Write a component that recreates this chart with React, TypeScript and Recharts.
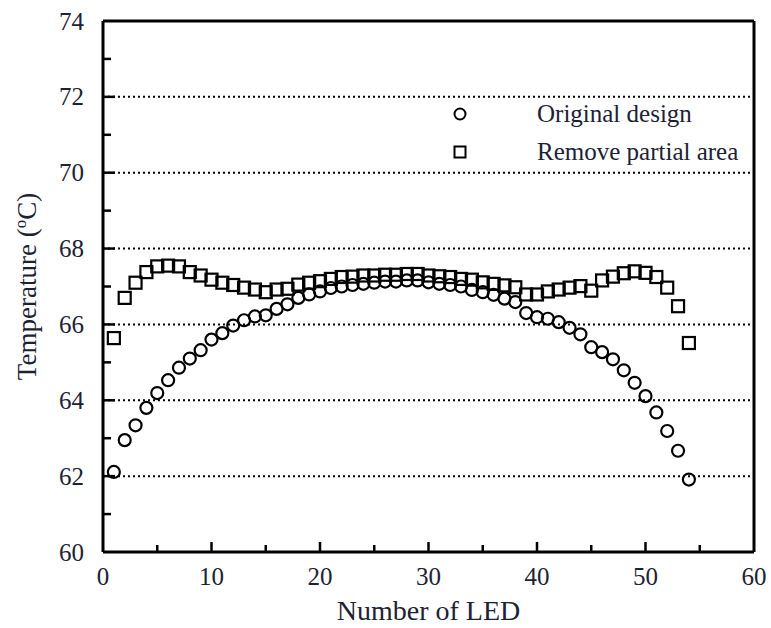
import React from 'react';
import { ScatterChart, Scatter, XAxis, YAxis, ReferenceLine } from 'recharts';

const ledIndex = [1,2,3,4,5,6,7,8,9,10,11,12,13,14,15,16,17,18,19,20,21,22,23,24,25,26,27,28,29,30,31,32,33,34,35,36,37,38,39,40,41,42,43,44,45,46,47,48,49,50,51,52,53,54];

const originalDesign = [62.11,62.95,63.34,63.8,64.19,64.53,64.86,65.1,65.32,65.6,65.77,65.97,66.11,66.21,66.24,66.41,66.53,66.7,66.79,66.87,66.96,67.0,67.04,67.07,67.1,67.13,67.13,67.16,67.16,67.11,67.07,67.04,67.0,66.91,66.85,66.78,66.68,66.59,66.3,66.19,66.15,66.06,65.91,65.74,65.4,65.27,65.08,64.79,64.46,64.11,63.68,63.19,62.67,61.91];

const removePartialArea = [65.64,66.7,67.1,67.38,67.53,67.55,67.53,67.38,67.29,67.18,67.1,67.04,66.97,66.92,66.85,66.92,66.94,67.05,67.1,67.14,67.2,67.25,67.26,67.29,67.29,67.31,67.31,67.33,67.33,67.29,67.27,67.25,67.2,67.18,67.11,67.07,67.03,66.98,66.79,66.79,66.87,66.92,66.97,67.01,66.89,67.16,67.26,67.35,67.4,67.36,67.25,66.97,66.48,65.51];

const xTicks = [0,5,10,15,20,25,30,35,40,45,50,55,60];
const yTicks = [60,61,62,63,64,65,66,67,68,69,70,71,72,73,74];
const gridValues = [62,64,66,68,70,72];

const seriesNames = ['Original design', 'Remove partial area'];
const xTitle = 'Number of LED';

const origData = ledIndex.map((n, i) => ({ x: n, y: originalDesign[i] }));
const removeData = ledIndex.map((n, i) => ({ x: n, y: removePartialArea[i] }));

const FONT = '"Liberation Serif", "Times New Roman", serif';
const TEXT = '#1c2233';

const CircleShape = (props: any) => (
  <circle cx={props.cx} cy={props.cy} r={6} fill="none" stroke="#000" strokeWidth={2.2} />
);
const SquareShape = (props: any) => (
  <rect x={props.cx - 6} y={props.cy - 6} width={12} height={12} fill="none" stroke="#000" strokeWidth={2.2} />
);

const XTick = (props: any) => {
  const { x, y, payload } = props;
  const v = payload.value;
  const major = v % 10 === 0;
  const len = major ? 10 : 7;
  return (
    <g>
      {v !== 0 && v !== 60 && <line x1={x} x2={x} y1={y} y2={y - len} stroke="#000" strokeWidth={2.5} />}
      {major && (
        <text x={x} y={y + 33} textAnchor="middle" fontFamily={FONT} fontSize={25} fill={TEXT}>{v}</text>
      )}
    </g>
  );
};

const YTick = (props: any) => {
  const { x, y, payload } = props;
  const v = payload.value;
  const major = v % 2 === 0;
  const len = major ? 12 : 8;
  return (
    <g>
      {v !== 60 && v !== 74 && <line x1={x} x2={x + len} y1={y} y2={y} stroke="#000" strokeWidth={2.5} />}
      {major && (
        <text x={x - 19} y={y + 8.5} textAnchor="end" fontFamily={FONT} fontSize={25} fill={TEXT}>{v}</text>
      )}
    </g>
  );
};

const XLabel = (props: any) => {
  const vb = props.viewBox || {};
  return (
    <text x={vb.x + vb.width / 2} y={vb.y + 68} textAnchor="middle" fontFamily={FONT} fontSize={28} fill={TEXT}>
      {xTitle}
    </text>
  );
};

const YLabel = (props: any) => {
  const vb = props.viewBox || {};
  const cx = 36;
  const cy = vb.y + vb.height / 2;
  return (
    <text x={cx} y={cy} transform={`rotate(-90, ${cx}, ${cy})`} textAnchor="middle" fontFamily={FONT} fontSize={27} fill={TEXT}>
      <tspan>Temperature (</tspan>
      <tspan fontSize={17} dy={-10}>o</tspan>
      <tspan dy={10}>C)</tspan>
    </text>
  );
};

const LegendOverlay = () => (
  <div style={{ position: 'absolute', left: 440, top: 96, width: 320, height: 80, fontFamily: FONT, fontSize: 25, color: TEXT }}>
    {seriesNames.map((name, i) => (
      <div key={name} style={{ position: 'absolute', left: 0, top: i * 38, height: 36, width: 320 }}>
        <svg width={20} height={20} style={{ position: 'absolute', left: 10, top: 8 }}>
          {i === 0 ? (
            <circle cx={10} cy={10} r={5.5} fill="none" stroke="#000" strokeWidth={2} />
          ) : (
            <rect x={4.5} y={4.5} width={11} height={11} fill="none" stroke="#000" strokeWidth={2} />
          )}
        </svg>
        <span style={{ position: 'absolute', left: 97, top: 0, whiteSpace: 'nowrap', lineHeight: '36px' }}>{name}</span>
      </div>
    ))}
  </div>
);

export default function App() {
  return (
    <div style={{ position: 'absolute', left: 0, top: 0, width: 771, height: 628, background: '#fff' }}>
      <ScatterChart width={771} height={628} margin={{ top: 21, right: 17, bottom: 0, left: 0 }}>
        <XAxis
          type="number"
          dataKey="x"
          domain={[0, 60]}
          ticks={xTicks}
          interval={0}
          height={76}
          tickSize={0}
          tickMargin={0}
          tickLine={false}
          axisLine={{ stroke: '#000', strokeWidth: 3 }}
          tick={<XTick />}
          label={<XLabel />}
        />
        <YAxis
          type="number"
          dataKey="y"
          domain={[60, 74]}
          ticks={yTicks}
          interval={0}
          width={103}
          tickSize={0}
          tickMargin={0}
          tickLine={false}
          axisLine={{ stroke: '#000', strokeWidth: 3 }}
          tick={<YTick />}
          label={<YLabel />}
        />
        {gridValues.map((v) => (
          <ReferenceLine key={v} y={v} stroke="#000" strokeWidth={2} strokeDasharray="2 3" />
        ))}
        <ReferenceLine y={74} stroke="#000" strokeWidth={3} />
        <ReferenceLine x={60} stroke="#000" strokeWidth={3} />
        <Scatter name={seriesNames[1]} data={removeData} shape={SquareShape} isAnimationActive={false} />
        <Scatter name={seriesNames[0]} data={origData} shape={CircleShape} isAnimationActive={false} />
      </ScatterChart>
      <LegendOverlay />
    </div>
  );
}
